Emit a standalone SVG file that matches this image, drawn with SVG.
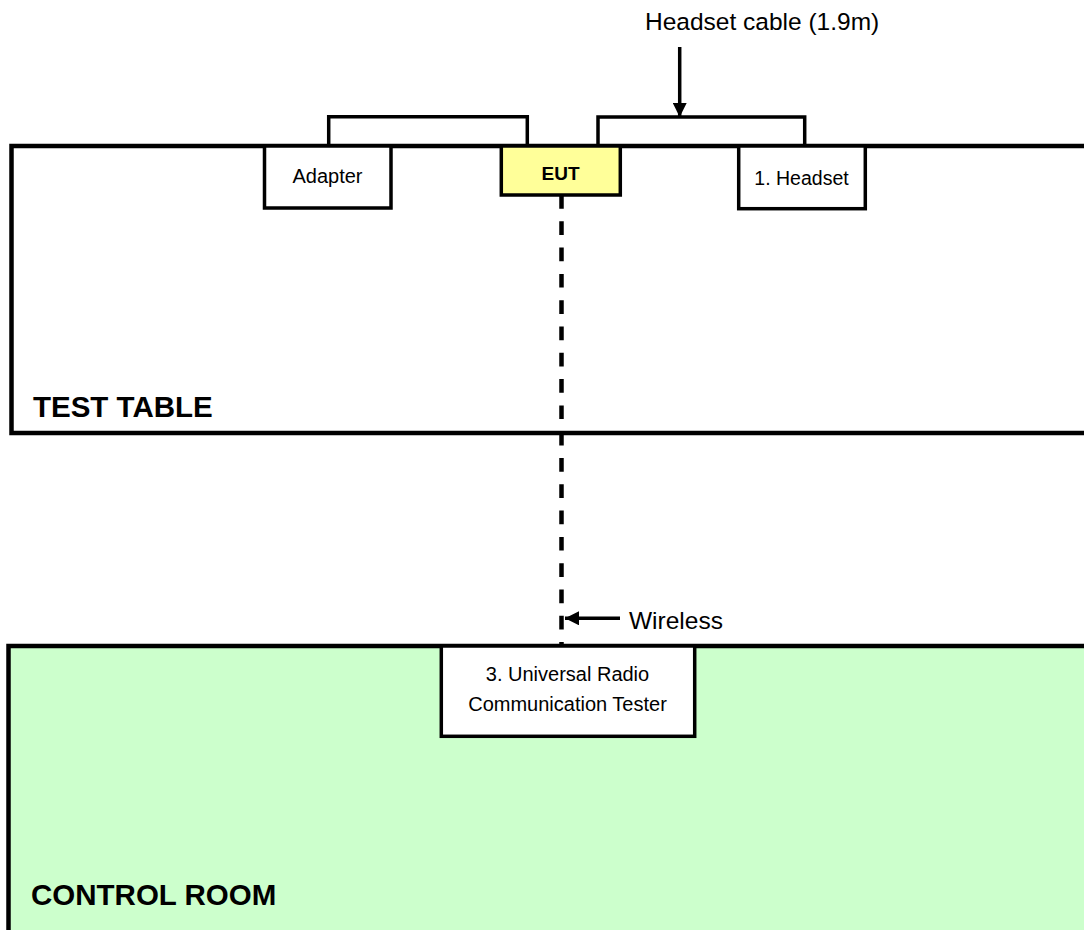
<svg xmlns="http://www.w3.org/2000/svg" width="1084" height="930" viewBox="0 0 1084 930">
  <style>
    text { font-family: "Liberation Sans", Arial, sans-serif; fill: #000; }
    .area { stroke: #000; stroke-width: 4.5; }
    .box { stroke: #000; stroke-width: 3.5; fill: #fff; }
    .cable { fill: none; stroke: #000; stroke-width: 3.5; }
    .radio { fill: none; stroke: #000; stroke-width: 4.5; stroke-dasharray: 13.7 12.6; }
    .pointer { fill: none; stroke: #000; stroke-width: 3.5; }
    .lbl { font-size: 20px; text-anchor: middle; }
    .note { font-size: 24.5px; }
    .zone { font-size: 29.5px; font-weight: bold; }
  </style>
  <defs>
    <marker id="arrowhead" viewBox="0 0 14 14" refX="14" refY="7" markerWidth="14" markerHeight="14" markerUnits="userSpaceOnUse" orient="auto">
      <path d="M0,0 L14,7 L0,14 Z" fill="#000"/>
    </marker>
  </defs>

  <rect width="1084" height="930" fill="#fff"/>

  <!-- Areas -->
  <g id="test-table">
    <rect class="area" x="11.5" y="146" width="1100" height="287" fill="#fff"/>
    <text class="zone" x="33" y="417">TEST TABLE</text>
  </g>
  <g id="control-room">
    <rect class="area" x="8.5" y="646" width="1100" height="320" fill="#CCFFCC"/>
    <text class="zone" x="31" y="905">CONTROL ROOM</text>
  </g>

  <!-- Connectors -->
  <g id="connectors">
    <path class="cable" d="M328.7,146 V116.7 H527.3 V146"/>
    <path class="cable" d="M598,146 V117 H804.7 V146"/>
    <line class="radio" x1="561.5" y1="195" x2="561.5" y2="646"/>
    <line class="pointer" x1="679.7" y1="47" x2="679.7" y2="117" marker-end="url(#arrowhead)"/>
    <line class="pointer" x1="620" y1="618.3" x2="565" y2="618.3" marker-end="url(#arrowhead)"/>
    <text class="note" x="645" y="30">Headset cable (1.9m)</text>
    <text class="note" x="629" y="628.5">Wireless</text>
  </g>

  <!-- Equipment -->
  <g id="adapter">
    <rect class="box" x="264.5" y="146" width="126.5" height="62"/>
    <text class="lbl" x="327.5" y="183">Adapter</text>
  </g>
  <g id="eut">
    <rect class="box" x="501.3" y="146" width="119" height="49" fill="#FFFF99" style="fill:#FFFF99"/>
    <text class="lbl" x="560.5" y="180" style="font-size:19px;font-weight:bold">EUT</text>
  </g>
  <g id="headset">
    <rect class="box" x="738.7" y="146" width="126.6" height="62.7"/>
    <text class="lbl" x="801.5" y="185" style="font-size:19.5px">1. Headset</text>
  </g>
  <g id="radio-tester">
    <rect class="box" x="441.3" y="646" width="253.4" height="90.3"/>
    <text class="lbl" x="567.5" y="681">3. Universal Radio</text>
    <text class="lbl" x="567.5" y="711">Communication Tester</text>
  </g>
</svg>
